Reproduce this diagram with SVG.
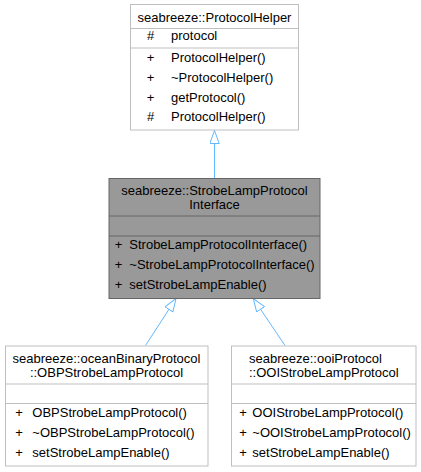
<svg xmlns="http://www.w3.org/2000/svg" width="421" height="472" viewBox="0 0 421 472">
<style>
text{font-family:"Liberation Sans",Arial,sans-serif;font-size:13px;fill:#000}
.c{text-anchor:middle}
.box{fill:#fff;stroke:#bfbfbf;stroke-width:1}
.cur{fill:#999999;stroke:#666666;stroke-width:1}
.sep{stroke:#bfbfbf;stroke-width:1}
.sepc{stroke:#666666;stroke-width:1}
.edge{stroke:#63b8ff;stroke-width:1;fill:none}
</style>
<defs>
<marker id="inh" markerUnits="userSpaceOnUse" markerWidth="16" markerHeight="12" refX="13.5" refY="5" orient="auto">
<polygon points="0.5,0.3 13.5,5 0.5,9.7" fill="#fff" stroke="#63b8ff" stroke-width="1"/>
</marker>
</defs>
<g id="edges">
<line class="edge" x1="214.5" y1="178" x2="214.5" y2="130.5" marker-end="url(#inh)"/>
<line class="edge" x1="145.5" y1="345.5" x2="176" y2="298.5" marker-end="url(#inh)"/>
<line class="edge" x1="285" y1="345.5" x2="253.3" y2="298.5" marker-end="url(#inh)"/>
</g>
<g id="ProtocolHelper">
<rect class="box" x="130.5" y="4.5" width="168" height="125.5"/>
<line class="sep" x1="130.5" y1="28.5" x2="298.5" y2="28.5"/>
<line class="sep" x1="130.5" y1="48" x2="298.5" y2="48"/>
<text class="c" x="214.5" y="21.5">seabreeze::ProtocolHelper</text>
<text class="c" x="150.5" y="40">#</text><text x="171" y="40">protocol</text>
<text class="c" x="150.5" y="62">+</text><text x="171" y="62">ProtocolHelper()</text>
<text class="c" x="150.5" y="81.8">+</text><text x="171" y="81.8">~ProtocolHelper()</text>
<text class="c" x="150.5" y="101.5">+</text><text x="171" y="101.5">getProtocol()</text>
<text class="c" x="150.5" y="121">#</text><text x="171" y="121">ProtocolHelper()</text>
</g>
<g id="StrobeLampProtocolInterface">
<rect class="cur" x="109" y="178.5" width="211" height="120"/>
<line class="sepc" x1="109" y1="216" x2="320" y2="216"/>
<line class="sepc" x1="109" y1="236" x2="320" y2="236"/>
<text class="c" x="214.5" y="195">seabreeze::StrobeLampProtocol</text>
<text class="c" x="214.5" y="208.8">Interface</text>
<text class="c" x="118.5" y="249.3">+</text><text x="129.3" y="249.3">StrobeLampProtocolInterface()</text>
<text class="c" x="118.5" y="269.3">+</text><text x="129.3" y="269.3">~StrobeLampProtocolInterface()</text>
<text class="c" x="118.5" y="289.3">+</text><text x="129.3" y="289.3">setStrobeLampEnable()</text>
</g>
<g id="OBPStrobeLampProtocol">
<rect class="box" x="5.5" y="346" width="202.5" height="120"/>
<line class="sep" x1="5.5" y1="384" x2="208" y2="384"/>
<line class="sep" x1="5.5" y1="403.5" x2="208" y2="403.5"/>
<text class="c" x="106.5" y="363">seabreeze::oceanBinaryProtocol</text>
<text class="c" x="106.5" y="377">::OBPStrobeLampProtocol</text>
<text class="c" x="19" y="417">+</text><text x="32.3" y="417">OBPStrobeLampProtocol()</text>
<text class="c" x="19" y="437">+</text><text x="32.3" y="437">~OBPStrobeLampProtocol()</text>
<text class="c" x="19" y="457">+</text><text x="32.3" y="457">setStrobeLampEnable()</text>
</g>
<g id="OOIStrobeLampProtocol">
<rect class="box" x="231.5" y="346" width="184.5" height="120"/>
<line class="sep" x1="231.5" y1="384" x2="416" y2="384"/>
<line class="sep" x1="231.5" y1="403.5" x2="416" y2="403.5"/>
<text x="249" y="363">seabreeze::ooiProtocol</text>
<text x="249" y="377">::OOIStrobeLampProtocol</text>
<text class="c" x="243" y="417">+</text><text x="252.3" y="417">OOIStrobeLampProtocol()</text>
<text class="c" x="243" y="437">+</text><text x="252.3" y="437">~OOIStrobeLampProtocol()</text>
<text class="c" x="243" y="457">+</text><text x="252.3" y="457">setStrobeLampEnable()</text>
</g>
</svg>
